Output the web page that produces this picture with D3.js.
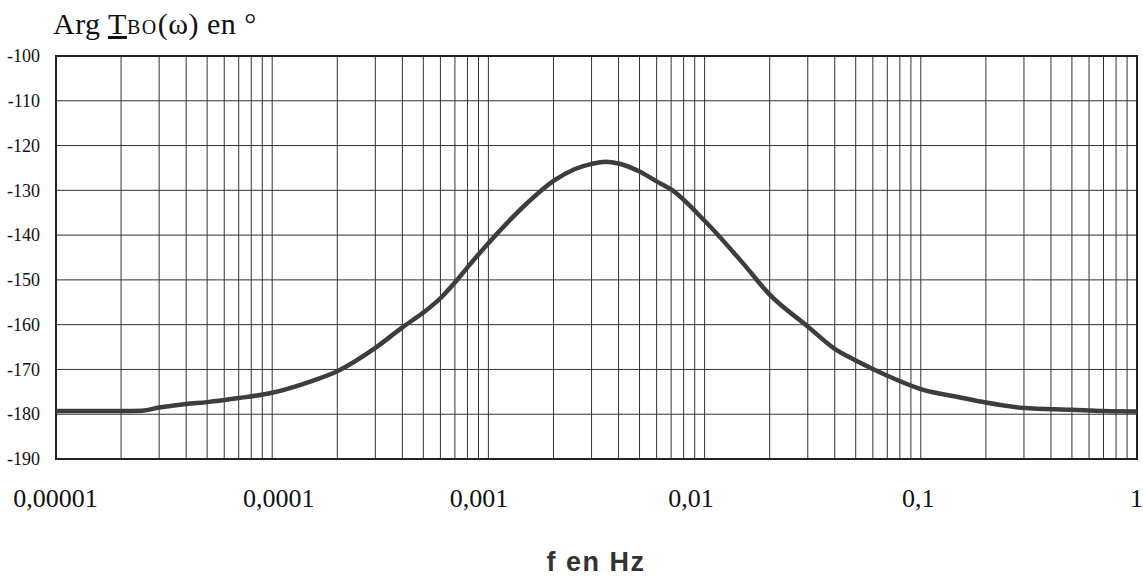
<!DOCTYPE html>
<html>
<head>
<meta charset="utf-8">
<script src="https://cdn.jsdelivr.net/npm/d3@7"></script>
<style>
  body { margin: 0; background: #fff; }
  svg { display: block; }
</style>
</head>
<body>
<div id="chart"></div>
<script>
const width = 1143;
const height = 577;

// frequency in Hz, phase in degrees
const freqs = [1e-5, 2e-5, 2.5e-5, 3e-5, 4e-5, 5e-5, 7e-5, 1e-4, 1.5e-4, 2e-4, 3e-4, 4e-4, 5e-4, 6e-4, 7e-4, 8e-4,
  1e-3, 1.5e-3, 2e-3, 2.5e-3, 3e-3, 3.5e-3, 4e-3, 5e-3, 6e-3, 7e-3, 1e-2, 1.5e-2, 2e-2, 3e-2, 4e-2, 5e-2, 7e-2,
  0.1, 0.15, 0.2, 0.3, 0.5, 0.7, 1];
const phase = [-179.3, -179.3, -179.2, -178.5, -177.7, -177.3, -176.4, -175.2, -172.7, -170.4, -165.2, -160.6, -157.3, -154.1, -150.6, -147.2,
  -141.8, -133.0, -127.9, -125.3, -124.1, -123.6, -124.0, -125.8, -128.0, -129.8, -136.8, -146.2, -153.3, -160.4, -165.4, -168.0, -171.4,
  -174.4, -176.2, -177.4, -178.6, -179.0, -179.3, -179.4];

const yTicks = [-100, -110, -120, -130, -140, -150, -160, -170, -180, -190];
const xTicks = [1e-5, 1e-4, 1e-3, 1e-2, 1e-1, 1];
const xTickLabels = ["0,00001", "0,0001", "0,001", "0,01", "0,1", "1"];

const plotLeft = 56, plotRight = 1137, plotTop = 56, plotBottom = 459;
// horizontal nudges of the x labels, as placed in the scan
const xLabelShift = [-1, 6, -10, -14, -3, -1];

const x = d3.scaleLog().domain([1e-5, 1]).range([plotLeft, plotRight]);
const y = d3.scaleLinear().domain([-190, -100]).range([plotBottom, plotTop]);

const svg = d3.select('#chart')
  .append('svg')
  .attr('width', width)
  .attr('height', height);

// minor + major vertical grid lines: 1..9 per decade
const gridX = [];
for (let e = -5; e < 0; e++) {
  for (let m = 1; m < 10; m++) gridX.push(m * Math.pow(10, e));
}
gridX.push(1);

svg.append('g')
  .selectAll('line')
  .data(gridX)
  .enter()
  .append('line')
  .attr('x1', d => x(d))
  .attr('x2', d => x(d))
  .attr('y1', plotTop)
  .attr('y2', plotBottom)
  .style('stroke', '#333')
  .style('stroke-width', 1);

svg.append('g')
  .selectAll('line')
  .data(yTicks)
  .enter()
  .append('line')
  .attr('x1', plotLeft)
  .attr('x2', plotRight)
  .attr('y1', d => y(d))
  .attr('y2', d => y(d))
  .style('stroke', '#333')
  .style('stroke-width', 1);

// frame
svg.append('rect')
  .attr('x', plotLeft)
  .attr('y', plotTop)
  .attr('width', plotRight - plotLeft)
  .attr('height', plotBottom - plotTop)
  .style('fill', 'none')
  .style('stroke', '#222')
  .style('stroke-width', 2);

// y axis labels
const yAxis = svg.append('g')
  .attr('transform', `translate(${plotLeft - 13},0)`)
  .call(d3.axisLeft(y).tickValues(yTicks).tickSize(0).tickFormat(d => d));
yAxis.select('.domain').remove();
yAxis.selectAll('text')
  .style('font-family', '"Liberation Serif", serif')
  .style('font-size', '18px')
  .style('fill', '#111');

// x axis labels
const xAxis = svg.append('g')
  .attr('transform', `translate(0,${plotBottom + 27})`)
  .call(d3.axisBottom(x).tickValues(xTicks).tickSize(0).tickFormat((d, i) => xTickLabels[i]));
xAxis.select('.domain').remove();
xAxis.selectAll('text')
  .style('font-family', '"Liberation Serif", serif')
  .style('font-size', '26px')
  .style('fill', '#111')
  .attr('text-anchor', 'middle')
  .attr('dx', (d, i) => xLabelShift[i]);

// curve
const line = d3.line()
  .x((d, i) => x(freqs[i]))
  .y(d => y(d))
  .curve(d3.curveMonotoneX);

svg.append('path')
  .datum(phase)
  .attr('d', line)
  .style('fill', 'none')
  .style('stroke', '#3d3d3d')
  .style('stroke-width', 4.5)
  .style('stroke-linejoin', 'round');

// title
const title = svg.append('text')
  .attr('x', 53)
  .attr('y', 34)
  .style('font-family', '"Liberation Serif", serif')
  .style('font-size', '30px')
  .style('letter-spacing', '0.5px')
  .style('fill', '#111');
title.append('tspan').text('Arg ');
title.append('tspan').text('T').style('text-decoration', 'underline');
title.append('tspan').text('BO').style('font-size', '20px').style('letter-spacing', '1.5px');
title.append('tspan').text('(ω) en °');

// x axis title
svg.append('text')
  .attr('x', 596)
  .attr('y', 571)
  .attr('text-anchor', 'middle')
  .style('font-family', '"Liberation Sans", Arial, sans-serif')
  .style('font-weight', 'bold')
  .style('font-size', '27px')
  .style('letter-spacing', '1.5px')
  .style('fill', '#333')
  .text('f en Hz');
</script>
</body>
</html>
